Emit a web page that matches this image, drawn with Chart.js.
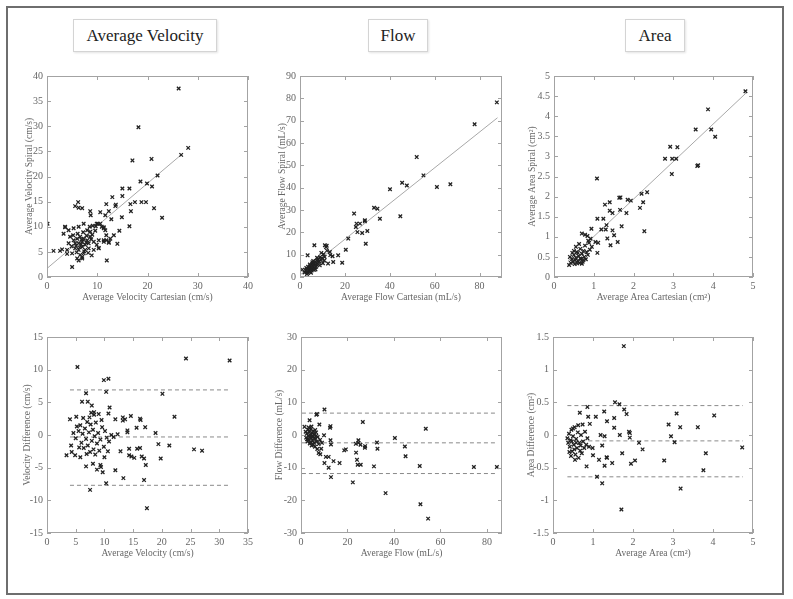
<!DOCTYPE html>
<html>
<head>
<meta charset="utf-8">
<script src="https://cdn.jsdelivr.net/npm/chart.js@4.4.1/dist/chart.umd.min.js"></script>
<style>
    body { margin: 0; background: #fff; width: 793px; height: 599px; position: relative; overflow: hidden; font-family: "Liberation Serif", "DejaVu Serif", serif; }
    #frame { position: absolute; left: 6px; top: 6px; width: 774px; height: 585px; border: 2px solid #6e6e6e; }
    .title-box { position: absolute; top: 19px; height: 31px; line-height: 31px; border: 1px solid #d4d4d4; box-shadow: 1px 1px 2px #e4e4e4; text-align: center; font-size: 17px; color: #222; }
    canvas { position: absolute; }
</style>
</head>
<body>
<div id="frame"></div>
<div class="title-box" style="left:73px;width:142px;">Average Velocity</div>
<div class="title-box" style="left:368px;width:58px;">Flow</div>
<div class="title-box" style="left:625px;width:58px;">Area</div>

<canvas id="velScatter"></canvas>
<canvas id="flowScatter"></canvas>
<canvas id="areaScatter"></canvas>
<canvas id="velBA"></canvas>
<canvas id="flowBA"></canvas>
<canvas id="areaBA"></canvas>

<script>
// ---- data ----

// Average velocity: Cartesian vs Spiral (cm/s)
const velCartesian = [26.2,18.2,28.1,26.7,17.0,20.8,22.0,19.9,20.9,18.6,15.0,16.4,15.0,13.0,11.8,13.6,17.5,18.8,19.7,16.7,16.6,21.3,22.9,14.9,16.4,12.8,11.6,12.3,10.6,8.6,8.7,6.3,5.6,6.2,7.0,14.4,14.0,11.9,10.1,9.7,11.3,11.6,11.8,11.8,11.3,10.3,12.3,1.3,2.6,4.0,5.0,6.3,7.0,8.9,3.3,3.6,4.3,0.1,13.7,
    3.6,5.3,6.3,7.3,8.0,8.6,9.0,9.9,10.6,10.9,11.3,11.3,10.3,9.9,9.3,8.3,7.6,7.0,6.3,5.6,5.3,6.0,6.6,7.3,8.0,8.6,5.6,6.3,7.0,7.6,8.3,6.6,6.0,7.0,7.3,5.0,4.0,3.0,4.3,4.6,9.3,10.3,12.3,12.6,13.3,5.8,6.8,7.8,8.8,6.1,7.2,5.2,9.6,6.5,7.4,8.2,5.9,7.9,6.9,4.9,8.5,9.1];
const velSpiral = [37.5,29.8,25.7,24.3,23.2,23.5,20.2,18.6,18.0,19.0,17.6,17.6,16.1,15.9,14.5,14.1,14.9,14.9,14.9,13.1,14.5,13.7,11.8,11.9,10.1,11.5,12.3,13.1,12.9,13.1,12.3,13.8,14.1,14.9,13.7,9.2,6.6,3.3,10.6,10.1,9.9,9.3,8.3,7.3,7.0,5.8,7.0,5.2,5.2,4.6,2.0,3.3,4.0,4.3,8.6,9.9,9.3,10.6,14.4,
    10.0,9.7,10.0,10.6,9.3,9.0,8.4,10.6,10.6,10.0,9.7,7.3,7.3,6.4,7.0,6.7,6.4,6.0,5.4,5.7,7.3,7.6,8.0,7.6,7.3,8.0,6.7,6.7,7.0,5.4,5.7,4.4,3.7,3.7,4.7,4.7,5.4,5.5,6.7,8.0,5.4,5.7,6.8,7.6,8.3,6.2,6.5,6.9,7.5,8.6,8.9,8.3,9.2,5.9,5.1,4.8,4.9,8.2,7.4,6.1,10.0,10.2];
const velFitX = [0, 26.8];
const velFitY = [1.7, 24.4];

// Average flow: Cartesian vs Spiral (mL/s)
const flowCartesian = [87.7,77.8,67.0,61.0,55.0,52.0,47.6,45.5,40.1,44.7,35.6,34.5,33.0,24.1,28.9,28.9,25.2,24.9,26.7,25.6,27.7,30.0,29.3,21.5,20.4,18.8,17.0,14.5,14.8,13.3,11.6,11.1,11.9,6.4,3.4,1.0,
    2.0,2.5,3.0,3.2,3.5,3.8,4.0,4.2,4.5,4.6,4.8,5.0,5.2,5.4,5.6,5.8,6.0,6.2,6.4,6.6,6.8,7.0,7.2,7.5,7.8,8.0,8.3,8.6,9.0,9.3,9.8,10.2,10.5,11.0,12.0,12.5,13.5,4.4,3.6,5.5,2.8,6.9,7.6,8.8,9.5,3.1,4.9,5.9,10.8];
const flowSpiral = [78.2,68.4,41.5,40.3,45.5,53.7,41.0,42.2,39.3,27.2,26.1,30.6,31.0,28.4,25.4,24.9,23.9,22.4,23.9,20.1,19.7,20.6,14.9,17.2,12.2,6.4,9.7,9.3,6.7,11.2,13.4,14.2,14.0,14.2,9.7,3.3,
    2.0,3.0,2.2,3.5,1.8,2.8,4.0,3.1,2.4,5.0,3.6,4.5,2.9,5.8,3.8,4.9,6.1,3.2,5.3,4.2,6.8,5.6,4.6,7.4,5.9,8.1,6.6,7.0,9.0,7.8,8.4,6.2,10.2,9.0,11.8,6.0,9.8,5.6,4.6,6.6,4.0,3.4,8.6,5.2,10.8,1.3,1.9,7.2,7.4];
const flowFitX = [0.5, 88];
const flowFitY = [1.3, 71.3];

// Average area: Cartesian vs Spiral (cm²)
const areaCartesian = [4.81,3.87,3.95,3.56,4.05,3.60,3.62,2.92,3.10,2.79,2.97,3.07,2.96,2.34,2.20,2.24,2.16,2.27,1.85,1.93,1.64,1.67,1.82,1.66,1.47,1.40,1.40,1.28,1.08,1.09,1.24,1.19,1.30,1.70,1.32,1.47,1.51,1.34,1.42,1.60,1.09,0.94,1.04,1.11,
    0.38,0.42,0.45,0.48,0.50,0.52,0.55,0.57,0.60,0.62,0.64,0.66,0.68,0.70,0.72,0.74,0.76,0.78,0.80,0.82,0.85,0.88,0.90,0.92,0.70,0.78,0.84,0.55,0.46,0.40,0.58,0.66,0.74,0.60,0.53,0.95,0.86,0.63,0.50,0.70];
const areaSpiral = [4.62,4.17,3.67,3.67,3.49,2.76,2.78,3.24,3.23,2.94,2.94,2.94,2.56,2.11,2.07,1.86,1.72,1.14,1.92,1.90,1.97,1.98,1.59,1.67,1.59,1.65,1.86,1.80,2.45,1.45,1.45,1.18,1.18,1.26,1.29,1.16,1.04,0.96,0.79,0.87,0.60,1.20,0.87,0.85,
    0.30,0.35,0.45,0.38,0.55,0.32,0.48,0.62,0.40,0.52,0.35,0.70,0.45,0.58,0.38,0.65,0.50,0.78,0.44,0.62,0.55,0.85,0.68,0.95,1.08,1.05,1.02,0.75,0.60,0.50,0.34,0.46,0.42,0.60,0.42,0.75,0.90,0.82,0.65,0.33];
const areaFitX = [0.35, 4.83];
const areaFitY = [0.40, 4.58];

// Bland-Altman: velocity
const velAvg = [24.2,31.8,5.3,9.9,10.7,10.3,6.8,20.1,6.1,7.1,7.8,10.9,22.2,8.2,8.2,9.0,4.0,5.1,11.9,13.2,13.6,13.2,14.6,16.2,16.3,10.7,14.0,14.0,15.6,17.1,18.9,19.4,21.3,25.6,27.0,15.7,16.2,14.3,14.3,14.7,15.2,16.5,16.9,19.8,17.2,13.3,16.9,10.3,7.5,17.4,11.9,9.7,8.7,8.0,6.8,9.3,9.4,3.4,4.3,4.9,5.8,
    5.0,5.5,5.8,6.0,6.2,6.4,6.6,6.8,7.0,7.1,7.3,7.5,7.6,7.8,8.0,8.1,8.3,8.5,8.7,8.9,9.1,9.3,9.6,9.9,10.1,10.4,10.8,11.2,11.6,12.3,12.8,5.6,6.3,7.4,5.2,4.6,6.9,8.4,10.0,10.6,7.7,9.5,4.2];
const velDiff = [11.7,11.4,10.4,8.4,8.6,6.6,6.4,6.3,5.1,5.1,4.5,4.2,2.8,3.5,3.1,3.2,2.4,2.8,2.4,2.7,2.4,2.2,2.9,2.5,2.3,3.3,0.7,0.4,1.1,1.2,0.3,-1.4,-1.6,-2.2,-2.4,-2.1,-2.0,-2.1,-3.1,-3.3,-3.5,-3.3,-3.6,-3.6,-4.6,-6.6,-6.9,-7.4,-8.4,-11.2,-5.4,-5.7,-5.3,-4.4,-4.8,-4.6,-4.9,-3.1,-2.6,-3.1,-3.4,
    -0.5,0.6,1.5,-1.2,0.2,-2.0,1.0,-0.6,2.0,-1.6,0.4,-2.6,1.6,-0.9,0.8,-2.2,-0.2,1.9,-1.3,0.3,-2.4,-0.7,1.2,-1.8,0.6,-0.4,-1.0,0.0,-0.3,0.1,-2.5,-1.9,2.6,2.7,1.3,0.3,-2.9,-3.0,-3.4,-2.5,3.4,2.3,-1.6];
const velLimits = [6.9, -0.3, -7.7];   // upper limit, mean, lower limit
const velRange = [4.0, 32.0];

// Bland-Altman: flow
const flowAvg = [84.3,74.4,53.7,54.7,51.4,51.1,44.7,45.0,40.4,36.4,32.9,32.7,31.4,26.6,27.6,27.5,24.7,24.7,25.6,23.6,23.7,24.1,25.7,24.4,22.3,19.3,18.6,16.6,14.0,12.9,12.7,12.7,12.5,10.1,6.6,6.9,3.7,7.9,9.9,10.7,11.9,10.1,11.9,12.9,7.6,8.3,8.7,
    1.5,2.0,2.2,2.5,2.8,3.0,3.2,3.4,3.6,3.8,4.0,4.2,4.4,4.6,4.8,5.0,5.2,5.4,5.6,5.8,6.0,6.2,6.5,6.8,7.2,7.6,8.2,9.0,2.6,3.3,4.1,4.9,5.3,6.1,7.0,3.9,5.7,6.6,4.5];
const flowDiff = [-9.8,-9.8,1.9,-25.6,-21.2,-9.5,-3.5,-6.5,-0.9,-17.8,-4.2,-2.3,-9.6,4.0,-3.4,-3.9,-1.6,-2.4,-3.0,-2.7,-5.4,-7.6,-9.1,-9.1,-14.5,-4.4,-4.7,-8.6,-8.0,-2.9,-1.6,2.7,2.2,7.8,6.2,6.4,4.5,3.2,-0.1,-6.7,-6.7,-8.6,-10.0,-12.9,-5.5,-5.9,-4.2,
    2.5,1.0,-0.8,0.4,-2.0,1.6,-0.3,-1.4,0.9,-2.6,0.0,1.8,-1.0,-3.2,0.6,-1.8,1.2,-0.5,-2.4,0.2,-3.6,-1.2,0.8,-2.0,-0.6,-2.8,-1.5,-2.4,-1.3,2.3,-2.2,-0.2,-3.0,1.5,-4.3,-0.6,-1.0,-0.2,2.6];
const flowLimits = [6.7, -2.4, -11.8];
const flowRange = [0.4, 84.6];

// Bland-Altman: area
const areaAvg = [1.77,1.71,3.19,4.03,4.73,3.76,3.82,3.62,3.18,3.09,2.89,2.95,3.04,2.78,2.24,2.15,2.05,1.95,1.92,1.92,1.90,1.84,1.78,1.66,1.55,1.67,1.73,1.53,1.53,1.48,1.34,1.35,1.35,1.29,1.23,1.29,1.23,1.19,1.28,1.07,1.10,1.15,1.00,0.99,0.92,0.86,0.88,0.84,0.67,
    0.36,0.38,0.40,0.42,0.44,0.46,0.48,0.50,0.52,0.54,0.56,0.58,0.60,0.62,0.64,0.66,0.68,0.70,0.72,0.75,0.78,0.80,0.83,0.45,0.55,0.63,0.50,0.41,0.58,0.69,0.74,0.86,0.90,0.53,0.47];
const areaDiff = [1.36,-1.14,-0.82,0.30,-0.19,-0.54,-0.28,0.12,0.12,0.33,0.16,-0.02,-0.11,-0.39,-0.22,-0.12,-0.39,-0.44,-0.04,0.03,0.05,0.32,0.39,0.47,0.50,0.00,-0.28,0.26,0.11,-0.43,-0.34,-0.35,0.21,-0.02,-0.16,-0.47,-0.74,0.00,0.36,0.28,-0.64,-0.38,-0.31,-0.20,0.17,0.43,0.28,-0.48,0.34,
    -0.05,-0.12,0.02,-0.18,-0.08,0.08,-0.25,-0.02,-0.15,0.12,-0.30,-0.06,-0.20,0.04,-0.35,-0.12,-0.24,0.00,-0.28,-0.10,-0.20,0.05,-0.15,-0.32,-0.38,0.15,0.10,-0.26,-0.12,-0.16,0.16,-0.05,-0.18,-0.22,-0.10];
const areaLimits = [0.45, -0.09, -0.64];
const areaRange = [0.36, 4.75];

// ---- drawing ----

const FRAME_GRAY = '#a3a3a3';
const TEXT_GRAY = '#666';
const MARK_COLOR = '#222';
const FONT = '"Liberation Serif", "DejaVu Serif", serif';

function toPoints(xs, ys) {
    return xs.map((x, i) => ({ x: x, y: ys[i] }));
}

function tickFmt(v) {
    return String(Math.round(v * 100) / 100);
}

// MATLAB style box with tick marks pointing inwards on all four sides
const boxTicks = {
    id: 'boxTicks',
    afterDraw(chart) {
        const { ctx, chartArea: a, scales } = chart;
        ctx.save();
        ctx.strokeStyle = FRAME_GRAY;
        ctx.lineWidth = 1;
        ctx.strokeRect(a.left + 0.5, a.top + 0.5, a.right - a.left - 1, a.bottom - a.top - 1);
        ctx.beginPath();
        scales.x.ticks.forEach(t => {
            const px = Math.round(scales.x.getPixelForValue(t.value)) + 0.5;
            ctx.moveTo(px, a.bottom); ctx.lineTo(px, a.bottom - 4);
            ctx.moveTo(px, a.top); ctx.lineTo(px, a.top + 4);
        });
        scales.y.ticks.forEach(t => {
            const py = Math.round(scales.y.getPixelForValue(t.value)) + 0.5;
            ctx.moveTo(a.left, py); ctx.lineTo(a.left + 4, py);
            ctx.moveTo(a.right, py); ctx.lineTo(a.right - 4, py);
        });
        ctx.stroke();
        ctx.restore();
    }
};

function axisOptions(min, max, step, label, isX, size) {
    return {
        type: 'linear',
        min: min,
        max: max,
        afterFit: s => { if (isX) s.height = size; else s.width = size; },
        grid: { display: false, drawTicks: false },
        border: { display: false },
        ticks: {
            stepSize: step,
            includeBounds: false,
            autoSkip: false,
            maxRotation: 0,
            padding: isX ? 3 : 4,
            color: TEXT_GRAY,
            font: { family: FONT, size: 10 },
            callback: tickFmt
        },
        title: {
            display: true,
            text: label,
            color: TEXT_GRAY,
            font: { family: FONT, size: 9.5 },
            padding: { top: 4, bottom: 4 }
        }
    };
}

function scatterSet(xs, ys) {
    return {
        type: 'scatter',
        data: toPoints(xs, ys),
        pointStyle: 'crossRot',
        pointRadius: 2.5,
        borderColor: MARK_COLOR,
        borderWidth: 1.3,
        order: 1
    };
}

function lineSet(xs, ys, dashed) {
    return {
        type: 'line',
        data: toPoints(xs, ys),
        borderColor: dashed ? '#8a8a8a' : '#a8a8a8',
        borderWidth: 1,
        borderDash: dashed ? [4, 3] : [],
        pointRadius: 0,
        fill: false,
        order: 2
    };
}

// yw = width of the y axis box, sets where the rotated y title sits
function makePanel(id, box, plot, yw, datasets, xAxis, yAxis) {
    const canvas = document.getElementById(id);
    canvas.width = box.w;
    canvas.height = box.h;
    canvas.style.left = box.x + 'px';
    canvas.style.top = box.y + 'px';
    new Chart(canvas, {
        data: { datasets: datasets },
        options: {
            responsive: false,
            animation: false,
            events: [],
            layout: {
                padding: {
                    left: plot.l - box.x - yw,
                    right: box.x + box.w - plot.r,
                    top: plot.t - box.y,
                    bottom: box.y + box.h - (plot.b + 30)
                }
            },
            plugins: { legend: { display: false }, tooltip: { enabled: false } },
            scales: { x: xAxis, y: yAxis }
        },
        plugins: [boxTicks]
    });
}

function limitSets(range, limits) {
    return limits.map(v => lineSet(range, [v, v], true));
}

const topBox = { y: 60, h: 250 };
const botBox = { y: 320, h: 250 };

makePanel('velScatter', { x: 0, y: topBox.y, w: 265, h: topBox.h }, { l: 47, r: 248, t: 76, b: 277 }, 27,
    [scatterSet(velCartesian, velSpiral), lineSet(velFitX, velFitY, false)],
    axisOptions(0, 40, 10, 'Average Velocity Cartesian (cm/s)', true, 30),
    axisOptions(0, 40, 5, 'Average Velocity Spiral (cm/s)', false, 27));

makePanel('flowScatter', { x: 265, y: topBox.y, w: 265, h: topBox.h }, { l: 300, r: 502, t: 76, b: 277 }, 27,
    [scatterSet(flowCartesian, flowSpiral), lineSet(flowFitX, flowFitY, false)],
    axisOptions(0, 90, 20, 'Average Flow Cartesian (mL/s)', true, 30),
    axisOptions(0, 90, 10, 'Average Flow Spiral (mL/s)', false, 27));

makePanel('areaScatter', { x: 520, y: topBox.y, w: 267, h: topBox.h }, { l: 554, r: 753, t: 76, b: 277 }, 31,
    [scatterSet(areaCartesian, areaSpiral), lineSet(areaFitX, areaFitY, false)],
    axisOptions(0, 5, 1, 'Average Area Cartesian (cm²)', true, 30),
    axisOptions(0, 5, 0.5, 'Average Area Spiral (cm²)', false, 31));

makePanel('velBA', { x: 0, y: botBox.y, w: 265, h: botBox.h }, { l: 47, r: 248, t: 337, b: 533 }, 29,
    [scatterSet(velAvg, velDiff)].concat(limitSets(velRange, velLimits)),
    axisOptions(0, 35, 5, 'Average Velocity (cm/s)', true, 30),
    axisOptions(-15, 15, 5, 'Velocity Difference (cm/s)', false, 29));

makePanel('flowBA', { x: 265, y: botBox.y, w: 265, h: botBox.h }, { l: 301, r: 502, t: 337, b: 533 }, 31,
    [scatterSet(flowAvg, flowDiff)].concat(limitSets(flowRange, flowLimits)),
    axisOptions(0, 86.5, 20, 'Average Flow (mL/s)', true, 30),
    axisOptions(-30, 30, 10, 'Flow Difference (mL/s)', false, 31));

makePanel('areaBA', { x: 520, y: botBox.y, w: 267, h: botBox.h }, { l: 553, r: 753, t: 337, b: 533 }, 31,
    [scatterSet(areaAvg, areaDiff)].concat(limitSets(areaRange, areaLimits)),
    axisOptions(0, 5, 1, 'Average Area (cm²)', true, 30),
    axisOptions(-1.5, 1.5, 0.5, 'Area Difference (cm²)', false, 31));
</script>
</body>
</html>
